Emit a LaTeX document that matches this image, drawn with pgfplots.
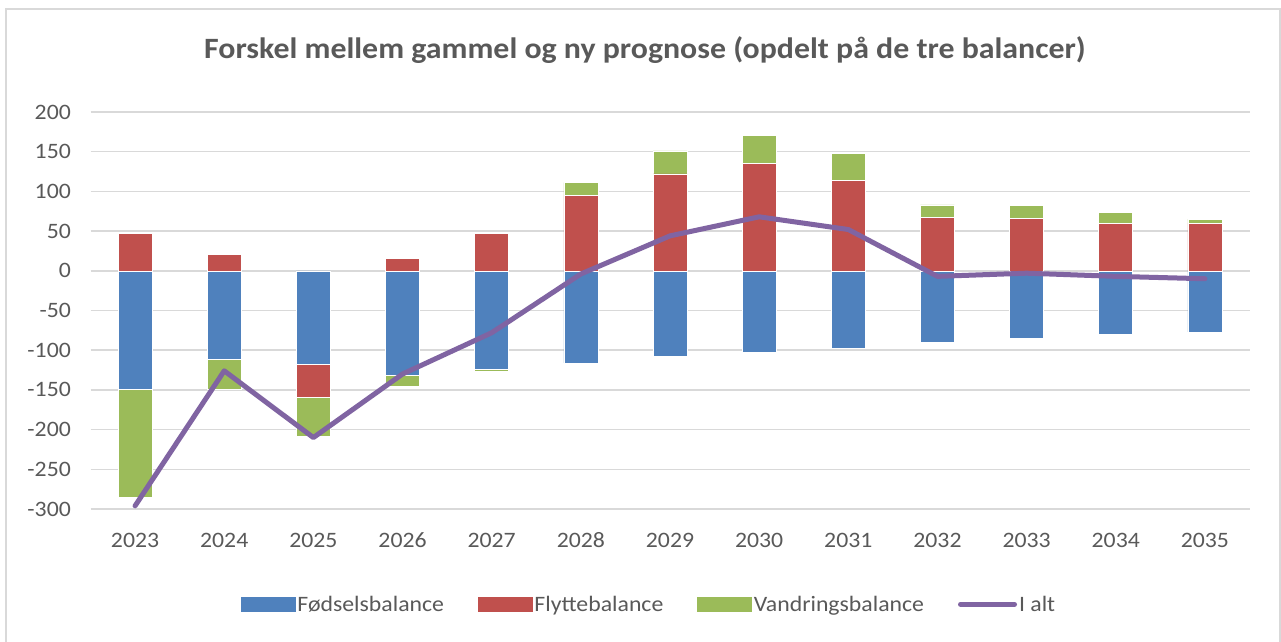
\documentclass[border=0pt]{standalone}
\usepackage{pgfplots}
\pgfplotsset{compat=1.18}
\usepackage{pgfplotstable}
\usepackage{fontspec}
\setmainfont{Carlito}[FakeStretch=1.08]
\definecolor{cblue}{HTML}{4F81BD}
\definecolor{cred}{HTML}{C0504D}
\definecolor{cgreen}{HTML}{9BBB59}
\definecolor{cpurple}{HTML}{8064A2}
\definecolor{textgrey}{HTML}{595959}
\definecolor{gridgrey}{HTML}{D9D9D9}
\definecolor{framegrey}{HTML}{D9D9D9}

% idx  fod  flyp flyn vanp vann ialt
\pgfplotstableread{
idx fod flyp flyn vanp vann ialt
0 -149 47 0 0 -136 -296
1 -111 21 0 0 -38 -126
2 -118 0 -41 0 -49 -210
3 -132 16 0 0 -14 -130
4 -124 47 0 0 -3 -78
5 -116 95 0 16 0 -4
6 -108 122 0 29 0 44
7 -103 135 0 36 0 68
8 -97 114 0 34 0 52
9 -90 67 0 16 0 -7
10 -85 66 0 16 0 -3
11 -80 60 0 14 0 -7
12 -77 60 0 5 0 -10
}\data

\pgfplotsset{
  base/.style={
    scale only axis, width=1159pt, height=397pt,
    xmin=-0.5, xmax=12.5, ymin=-300, ymax=200,
    anchor=south west, at={(90.5pt,132pt)},
    axis line style={draw=none}, major tick length=0pt,
    clip=false,
  },
  hidden/.style={base, xtick=\empty, ytick=\empty},
  barsty/.style={bar width=34pt, draw=white, line width=0.6pt},
}

\begin{document}
\begin{tikzpicture}
\useasboundingbox (0,0) rectangle (1281pt,641pt);
\fill[white] (0,0) rectangle (1281pt,641pt);
\draw[framegrey, line width=1.5pt] (6pt,-10pt) rectangle (1280pt,632pt);
\node[font=\bfseries\fontsize{29.5}{29.5}\selectfont, text=textgrey] at (645pt,591pt) {Forskel mellem gammel og ny prognose (opdelt på de tre balancer)};

% negative stack with grid and labels
\begin{axis}[base, ybar stacked, barsty,
  ytick={-300,-250,-200,-150,-100,-50,0,50,100,150,200},
  yticklabels={-300,-250,-200,-150,-100,-50,0,50,100,150,200},
  xtick={0,...,12},
  xticklabels={2023,2024,2025,2026,2027,2028,2029,2030,2031,2032,2033,2034,2035},
  ymajorgrids, grid style={gridgrey, line width=1.5pt},
  tick label style={font=\fontsize{22}{22}\selectfont, text=textgrey},
  yticklabel style={xshift=-16pt},
  xticklabel style={yshift=-21pt, text height=14pt, text depth=0pt},
]
\addplot[fill=cblue, barsty] table[x=idx, y=fod] {\data};
\addplot[fill=cred, barsty] table[x=idx, y=flyn] {\data};
\addplot[fill=cgreen, barsty] table[x=idx, y=vann] {\data};
\end{axis}

% positive stack
\begin{axis}[hidden, ybar stacked, barsty]
\addplot[fill=cred, barsty] table[x=idx, y=flyp] {\data};
\addplot[fill=cgreen, barsty] table[x=idx, y=vanp] {\data};
\end{axis}

% total line and legend
\begin{axis}[hidden,
  legend columns=4,
  legend style={at={(0.482,-0.24)}, anchor=center, draw=none, fill=none,
    font=\fontsize{22}{22}\selectfont, text=textgrey,
    /tikz/every even column/.append style={column sep=32pt},
    cells={anchor=west}},
]
\addlegendimage{area legend, legend image code/.code={\fill[cblue] (0pt,-7pt) rectangle (54pt,7pt);}}
\addlegendentry{Fødselsbalance}
\addlegendimage{area legend, legend image code/.code={\fill[cred] (0pt,-7pt) rectangle (54pt,7pt);}}
\addlegendentry{Flyttebalance}
\addlegendimage{area legend, legend image code/.code={\fill[cgreen] (0pt,-7pt) rectangle (54pt,7pt);}}
\addlegendentry{Vandringsbalance}
\addlegendimage{legend image code/.code={\draw[cpurple, line width=5pt, line cap=round] (0pt,0pt) -- (54pt,0pt);}}
\addlegendentry{I alt}
\addplot[cpurple, line width=5pt, line join=round, line cap=round, mark=none] table[x=idx, y=ialt] {\data};
\end{axis}
\end{tikzpicture}
\end{document}
